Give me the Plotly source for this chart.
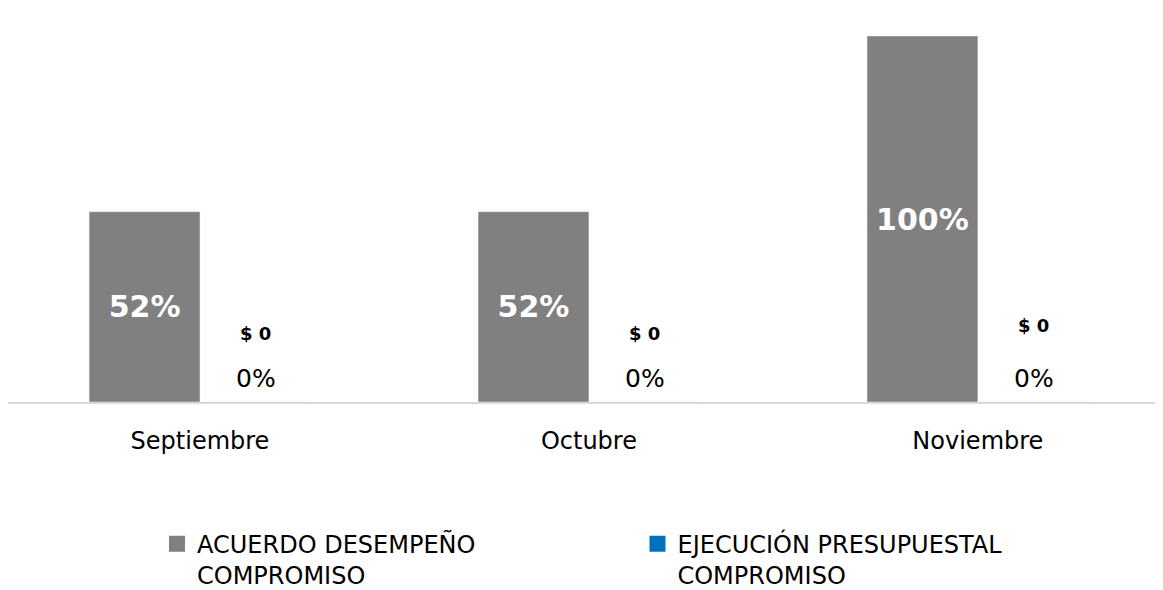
import plotly.graph_objects as go

meses = ["Septiembre", "Octubre", "Noviembre"]
acuerdo_desempeno = [52, 52, 100]
ejecucion_presupuestal = [0, 0, 0]
ejecucion_valor = [0, 0, 0]

nombre_acuerdo = "ACUERDO DESEMPEÑO<br>COMPROMISO"
nombre_ejecucion = "EJECUCIÓN PRESUPUESTAL<br>COMPROMISO"

gris = "#808080"
azul = "#0070C0"
fuente = "DejaVu Sans"

fig = go.Figure()
fig.add_trace(go.Bar(
    x=meses, y=acuerdo_desempeno, name=nombre_acuerdo,
    marker_color=gris, showlegend=False,
    texttemplate="<b>%{y}%</b>",
    textposition="inside", insidetextanchor="middle",
    textangle=0, constraintext="none",
    textfont=dict(family=fuente, size=30, color="white"),
))
fig.add_trace(go.Bar(
    x=meses, y=ejecucion_presupuestal, name=nombre_ejecucion,
    marker_color=azul, showlegend=False,
))

# entradas de leyenda con cuadro más grande
fig.add_trace(go.Scatter(x=[None], y=[None], mode="markers", name=nombre_acuerdo,
                         marker=dict(symbol="square", size=16, color=gris),
                         legend="legend"))
fig.add_trace(go.Scatter(x=[None], y=[None], mode="markers", name=nombre_ejecucion,
                         marker=dict(symbol="square", size=16, color=azul),
                         legend="legend2"))

# etiquetas de la serie azul (porcentaje y valor en pesos)
desplaz_valor = [69, 69, 77]
for i, mes in enumerate(meses):
    fig.add_annotation(x=mes, y=ejecucion_presupuestal[i], xref="x", yref="y",
                       text=f"{ejecucion_presupuestal[i]}%", showarrow=False,
                       xshift=56, yshift=24, yanchor="middle",
                       font=dict(family=fuente, size=25, color="black"))
    fig.add_annotation(x=mes, y=ejecucion_presupuestal[i], xref="x", yref="y",
                       text=f"<b>$ {ejecucion_valor[i]}</b>", showarrow=False,
                       xshift=56, yshift=desplaz_valor[i], yanchor="middle",
                       font=dict(family=fuente, size=18, color="black"))

leyenda = dict(orientation="v", yanchor="top", xanchor="left", y=-0.327,
               font=dict(family=fuente, size=24, color="black"),
               valign="top", bgcolor="rgba(0,0,0,0)")

fig.update_layout(
    width=1155, height=582,
    margin=dict(l=0, r=0, t=28, b=188, autoexpand=False),
    paper_bgcolor="white", plot_bgcolor="white",
    barmode="group", bargap=0.43, bargroupgap=0,
    font=dict(family=fuente, color="black"),
    showlegend=True,
    legend=dict(leyenda, x=0.129),
    legend2=dict(leyenda, x=0.545),
)
fig.update_xaxes(range=[-0.4936, 2.476], showline=True, linecolor="#D9D9D9", linewidth=2,
                 ticks="", tickfont=dict(family=fuente, size=24, color="black"),
                 ticklabelstandoff=16, showgrid=False, automargin=False)
fig.update_yaxes(range=[0, 100], visible=False, showgrid=False, zeroline=False)

fig.write_html("out.html")
